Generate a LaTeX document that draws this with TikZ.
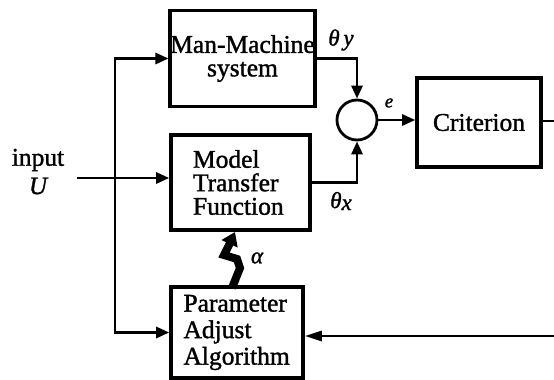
\documentclass[tikz,border=0pt]{standalone}
\usepackage{fontspec}
\setmainfont{Liberation Serif}[BoldFont={Liberation Serif}, BoldFeatures={FakeBold=1.3}, BoldItalicFont={Liberation Serif Italic}, BoldItalicFeatures={FakeBold=1.3}]
\usetikzlibrary{arrows.meta}
\tikzset{
  blk/.style={draw, line width=3.6pt, inner sep=0pt, font=\fontsize{25.5}{23.5}\selectfont\bfseries},
  conn/.style={line width=2.8pt, -{Triangle[length=13pt,width=11pt]}},
  plain/.style={line width=2.8pt},
  lbl/.style={inner sep=0pt, font=\fontsize{23}{23}\selectfont\bfseries\itshape},
}
\begin{document}
\begin{tikzpicture}[x=1pt,y=-1pt]
\useasboundingbox (0,0) rectangle (554,380);
% blocks
\node[blk, minimum width=141pt, minimum height=96pt, align=center] (mm) at (242.5,58.5) {Man-Machine\\system};
\node[blk, minimum width=139pt, minimum height=95pt, align=left, text width=95pt] (model) at (240.5,182.5) {Model\\Transfer\\Function};
\node[blk, minimum width=132pt, minimum height=91pt, align=left, text width=107pt, font=\fontsize{25.5}{26.5}\selectfont\bfseries] (pa) at (237,332.5) {Parameter\\Adjust\\Algorithm};
\node[blk, minimum width=124pt, minimum height=89pt] (crit) at (479,122.5) {Criterion};
\node[draw, circle, line width=2.8pt, minimum size=40pt, inner sep=0pt] (sum) at (357,120) {};
% input
\node[inner sep=0pt, font=\fontsize{25.5}{25.5}\selectfont\bfseries] (inlbl) at (38,160) {input};
\node[lbl, font=\fontsize{25}{25}\selectfont\bfseries\itshape] (ulbl) at (38,186) {U};
\coordinate (in) at (77,178);
\coordinate (j) at (115,178);
\draw[conn] (in) -- (in -| model.west);
\draw[conn] (j) |- (mm.west);
\draw[conn] (j) |- (pa.west);
% outputs to summing junction
\draw[conn] (mm.east) -| (sum.north);
\draw[conn] (model.east) -| (sum.south);
\draw[conn] (sum.east) -- (sum.east -| crit.west);
% criterion out and feedback
\coordinate (cout) at (554,121);
\coordinate (fb) at (554,336);
\draw[plain] (crit.east |- cout) -- (cout);
\draw[line width=2.8pt, -{Triangle[length=17pt,width=10pt]}] (fb) -- (fb -| pa.east);
% alpha lightning arrow
\draw[line width=8pt, line join=miter, -{Triangle[length=13pt,width=17pt]}]
  (232,288) -- (240,268) -- (237,259) -- (224,255) -- (229,245) -- (235,232);
% labels
\node[lbl] (ty) at (341,40) {θ\,y};
\node[lbl] (tx) at (341,201) {θ\raisebox{-2pt}{x}};
\node[lbl, font=\fontsize{19}{19}\selectfont\bfseries\itshape] (el) at (389,103) {e};
\node[lbl] (al) at (257,258) {α};
\end{tikzpicture}
\end{document}
